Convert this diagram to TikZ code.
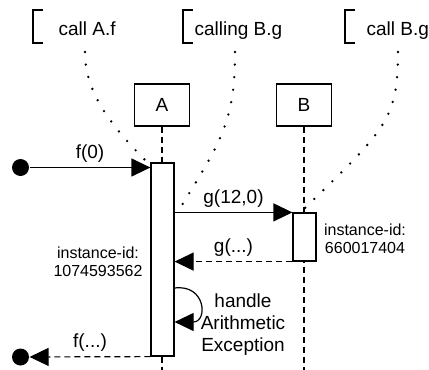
\documentclass[tikz,border=0pt]{standalone}
\usepackage{fontspec}
\setmainfont{Liberation Sans}
\usetikzlibrary{arrows.meta}
\usetikzlibrary{positioning}

\tikzset{
	actor/.style={draw, minimum width=55pt, minimum height=42pt, inner sep=0pt, font=\fontsize{19}{21}\selectfont},
	activation/.style={draw, fill=white, minimum width=23pt, inner sep=0pt},
	enddot/.style={circle, fill, inner sep=0pt, minimum size=17pt},
	msg/.style={-{Triangle[length=19pt,width=18pt]}},
	reply/.style={msg, dash pattern=on 6pt off 4pt},
	lifeline/.style={dash pattern=on 6pt off 4pt},
	notelink/.style={dash pattern=on 0pt off 12.6pt, line cap=round, line width=2.6pt},
	lbl/.style={font=\fontsize{19}{22}\selectfont},
	idlbl/.style={font=\fontsize{16}{18.5}\selectfont, align=center},
}

\begin{document}
\begin{tikzpicture}[x=1pt, y=-1pt, line width=1.2pt]
	\useasboundingbox (0,0) rectangle (429,370);
	% comments
	\node[lbl, anchor=base west, inner sep=0pt] (noteA) at (58,35) {call A.f};
	\node[lbl, anchor=base west, inner sep=0pt] (noteB) at (194,35) {calling B.g};
	\node[lbl, anchor=base west, inner sep=0pt] (noteC) at (366,35) {call B.g};
	\draw (43,10) -- (33,10) -- (33,43) -- (43,43);
	\draw (193,10) -- (183,10) -- (183,43) -- (193,43);
	\draw (355,10) -- (345,10) -- (345,43) -- (355,43);
	% objects
	\node[actor] (A) at (162,105) {A};
	\node[actor] (B) at (304,105) {B};
	\draw[lifeline] (A.south) -- (A.south |- 0,370);
	\draw[lifeline] (B.south) -- (B.south |- 0,370);
	\node[activation, minimum height=193pt] (actA) at (162.5,259.5) {};
	\node[activation, minimum height=48pt] (actB) at (304.5,237) {};
	% dotted links
	\draw[notelink] (85,52) .. controls (85,92) and (110,125) .. (148,163);
	\draw[notelink] (235,52) .. controls (235,120) and (222,140) .. (182,205);
	\draw[notelink] (398,52) .. controls (398,120) and (385,130) .. (305,208);
	% messages
	\node[enddot] (start) at (20.5,167.5) {};
	\node[enddot] (stop) at (20.5,357) {};
	\draw[msg] (start) -- (start -| actA.west) node[lbl, midway, above=1pt] (f0) {f(0)};
	\draw[msg] (actB.north west -| actA.east) -- (actB.north west) node[lbl, midway, above=1pt] (g120) {g(12,0)};
	\draw[reply] (actB.south west) -- (actB.south west -| actA.east) node[lbl, midway, above=1pt] (gret) {g(...)};
	\draw[msg] (actA.east |- 0,288) .. controls (206,284) and (208,322) .. (actA.east |- 0,322);
	\draw[reply] (actA.south west) -- (stop) node[lbl, midway, above=1pt] (fret) {f(...)};
	% labels
	\node[lbl, align=center] (handle) at (243,325) {handle\\Arithmetic\\Exception};
	\node[idlbl] (idA) at (98,262) {instance-id:\\1074593562};
	\node[idlbl] (idB) at (365,239) {instance-id:\\660017404};
\end{tikzpicture}
\end{document}
